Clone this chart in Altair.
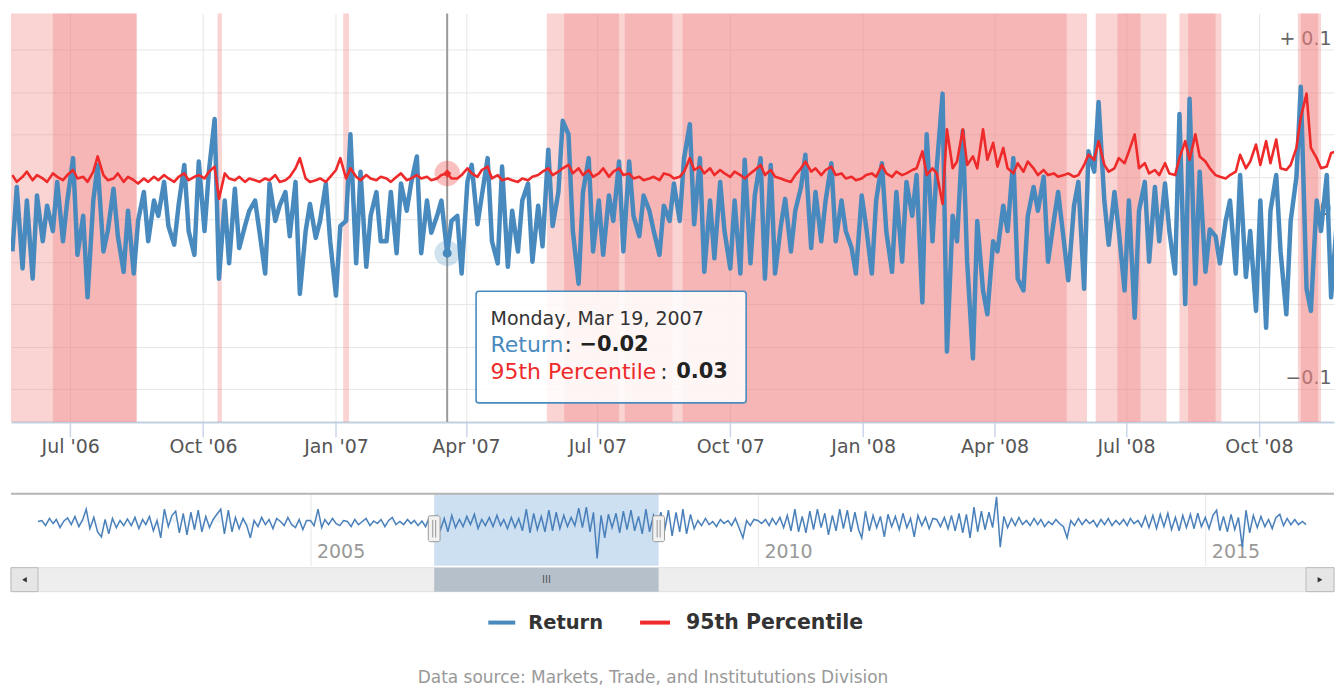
import altair as alt
import pandas as pd

FONT = "DejaVu Sans"
BLUE = "#498abe"
RED = "#ee2a2a"

# ---------------- main view: Return (twice weekly, Mon & Thu from 2006-05-22) ----------------
ret = [
    -0.019, 0.019, -0.029, 0.011, -0.035, 0.014, -0.013, 0.008, -0.007, 0.022,
    -0.013, 0.011, 0.036, -0.021, 0.002, -0.046, 0.011, 0.032, -0.019, -0.007,
    0.018, -0.010, -0.031, 0.005, -0.032, -0.001, 0.016, -0.013, 0.011, 0.002,
    0.022, -0.004, -0.015, 0.008, 0.032, -0.007, -0.021, 0.034, -0.007, 0.028,
    0.059, -0.035, 0.011, -0.026, 0.018, -0.017, -0.004, 0.005, 0.011, -0.007,
    -0.032, 0.021, -0.001, 0.008, 0.016, -0.010, 0.022, -0.044, -0.007, 0.009,
    -0.011, -0.001, 0.021, -0.013, -0.045, -0.004, -0.001, 0.050, -0.026, 0.028,
    -0.028, 0.002, 0.016, -0.013, -0.013, 0.016, -0.020, 0.021, 0.005, 0.021,
    0.037, -0.020, 0.011, -0.008, 0.002, 0.011, -0.020, -0.001, 0.002, -0.032,
    0.022, 0.032, -0.003, 0.014, 0.036, -0.013, -0.026, 0.031, -0.028, 0.005,
    -0.019, 0.011, 0.021, -0.025, 0.008, -0.016, 0.041, -0.004, 0.016, 0.058,
    0.050, -0.007, -0.038, 0.016, 0.036, -0.019, 0.011, -0.021, 0.014, -0.001,
    0.034, -0.019, 0.034, 0.002, -0.010, 0.014, 0.005, -0.007, -0.021, 0.008,
    -0.001, 0.021, -0.001, 0.036, 0.056, -0.003, 0.036, -0.031, 0.011, -0.023,
    0.022, -0.007, -0.029, 0.011, -0.032, 0.035, -0.026, 0.014, 0.036, -0.035,
    0.032, -0.032, -0.004, 0.012, -0.019, 0.005, 0.019, 0.038, -0.017, 0.016,
    -0.013, 0.011, 0.033, -0.013, 0.011, -0.007, -0.017, -0.032, 0.014, -0.004,
    -0.032, 0.011, 0.033, -0.007, -0.031, 0.016, -0.025, 0.022, 0.002, 0.026,
    -0.049, 0.050, -0.013, 0.031, 0.074, -0.078, 0.002, -0.013, 0.052, -0.025,
    -0.082, -0.001, -0.042, -0.056, -0.013, -0.019, 0.008, -0.007, 0.036, -0.035,
    -0.042, 0.002, 0.019, 0.005, 0.025, -0.025, -0.001, 0.016, -0.013, -0.036,
    0.008, 0.022, -0.041, 0.040, 0.028, 0.069, 0.011, -0.015, 0.016, -0.007,
    -0.042, 0.011, -0.058, 0.005, 0.022, -0.025, 0.019, -0.013, 0.021, -0.007,
    -0.032, 0.062, -0.050, 0.071, -0.038, 0.028, -0.031, -0.006, -0.010, -0.026,
    -0.001, 0.011, -0.032, 0.026, -0.034, -0.007, -0.054, 0.011, -0.064, 0.005,
    0.026, -0.019, -0.056, -0.001, 0.025, 0.078, -0.041, -0.054, 0.011, -0.007,
    0.026, -0.046, -0.001,
]

# ---------------- main view: 95th Percentile ----------------
p95 = [
    0.026, 0.022, 0.025, 0.028, 0.023, 0.026, 0.024, 0.022, 0.027, 0.025,
    0.023, 0.026, 0.029, 0.024, 0.025, 0.022, 0.028, 0.037, 0.026, 0.023,
    0.024, 0.027, 0.022, 0.025, 0.023, 0.021, 0.024, 0.022, 0.025, 0.023,
    0.026, 0.024, 0.022, 0.025, 0.027, 0.023, 0.025, 0.026, 0.024, 0.028,
    0.031, 0.012, 0.027, 0.024, 0.023, 0.025, 0.022, 0.024, 0.023, 0.022,
    0.024, 0.023, 0.026, 0.022, 0.023, 0.025, 0.030, 0.036, 0.024, 0.022,
    0.023, 0.024, 0.022, 0.025, 0.029, 0.036, 0.024, 0.030, 0.025, 0.023,
    0.026, 0.024, 0.023, 0.025, 0.024, 0.022, 0.025, 0.027, 0.023, 0.024,
    0.026, 0.024, 0.025, 0.023, 0.024, 0.026, 0.027, 0.024, 0.024, 0.026,
    0.030, 0.027, 0.025, 0.029, 0.031, 0.024, 0.026, 0.023, 0.024, 0.023,
    0.022, 0.024, 0.023, 0.025, 0.026, 0.028, 0.030, 0.026, 0.028, 0.030,
    0.032, 0.027, 0.030, 0.026, 0.029, 0.025, 0.027, 0.030, 0.025, 0.028,
    0.030, 0.026, 0.027, 0.024, 0.025, 0.023, 0.024, 0.025, 0.023, 0.027,
    0.026, 0.024, 0.025, 0.028, 0.036, 0.029, 0.031, 0.027, 0.030, 0.026,
    0.029, 0.027, 0.025, 0.028, 0.026, 0.024, 0.027, 0.029, 0.032, 0.026,
    0.029, 0.025, 0.024, 0.023, 0.022, 0.026, 0.030, 0.034, 0.028, 0.030,
    0.026, 0.029, 0.031, 0.026, 0.027, 0.024, 0.025, 0.023, 0.024, 0.026,
    0.027, 0.025, 0.032, 0.027, 0.025, 0.028, 0.026, 0.027, 0.029, 0.030,
    0.040, 0.026, 0.030, 0.027, 0.009, 0.053, 0.030, 0.034, 0.053, 0.032,
    0.037, 0.030, 0.053, 0.035, 0.045, 0.031, 0.042, 0.030, 0.027, 0.033,
    0.028, 0.034, 0.030, 0.026, 0.029, 0.026, 0.027, 0.025, 0.026, 0.027,
    0.025, 0.026, 0.032, 0.038, 0.035, 0.046, 0.032, 0.028, 0.030, 0.036,
    0.033, 0.040, 0.050, 0.030, 0.033, 0.027, 0.029, 0.026, 0.033, 0.027,
    0.026, 0.036, 0.046, 0.035, 0.050, 0.037, 0.034, 0.030, 0.026, 0.025,
    0.024, 0.026, 0.028, 0.038, 0.030, 0.034, 0.044, 0.032, 0.046, 0.033,
    0.047, 0.030, 0.029, 0.032, 0.042, 0.060, 0.074, 0.042, 0.036, 0.030,
    0.031, 0.039, 0.040,
]

# ---------------- exceedance bands (plot bands) ----------------
band_start = ["2006-05-21", "2006-06-19", "2006-10-11", "2007-01-06", "2007-05-27",
              "2007-06-08", "2007-07-20", "2007-08-29", "2008-06-10", "2008-06-25",
              "2008-08-07", "2008-08-13", "2008-10-28", "2008-10-30"]
band_end = ["2006-08-16", "2006-08-16", "2006-10-14", "2007-01-10", "2008-06-04",
            "2007-07-16", "2007-08-22", "2008-05-21", "2008-07-29", "2008-07-11",
            "2008-09-05", "2008-09-01", "2008-11-13", "2008-11-11"]

# ---------------- navigator series (1st & 16th of each month, Dec 2001 - Feb 2016) ----------------
nav_ret = [
    0.002,
    0.004, -0.006, 0.008, -0.002, 0.006, -0.010, 0.003, 0.009, -0.004, 0.012, -0.008, 0.005,
    0.026, -0.012, 0.010, -0.018, -0.028, 0.006, -0.022, 0.008, -0.010, 0.004, -0.006, 0.007,
    -0.006, 0.010, -0.012, 0.006, -0.004, 0.012, -0.016, 0.004, -0.030, 0.026, -0.008, 0.014,
    0.022, -0.020, 0.018, -0.024, 0.020, -0.014, 0.024, -0.018, 0.012, -0.010, 0.006, 0.016,
    0.026, -0.022, 0.024, -0.018, 0.010, -0.012, 0.008, -0.006, -0.030, 0.004, -0.008, 0.010,
    -0.004, 0.006, -0.012, 0.008, 0.002, -0.006, 0.010, -0.004, -0.010, 0.006, -0.014, 0.004,
    0.004, -0.006, 0.026, -0.010, 0.006, -0.004, 0.008, -0.002, -0.006, 0.004, 0.002, -0.008,
    0.006, -0.004, 0.002, 0.008, -0.006, 0.003, -0.002, 0.006, -0.008, 0.004, 0.010, -0.004,
    0.002, -0.004, 0.006, -0.002, 0.004, -0.006, 0.003, -0.008, 0.010, -0.004, 0.012, -0.014,
    0.008, -0.018, 0.014, -0.010, 0.006, -0.008, 0.012, -0.004, 0.016, -0.012, 0.006, -0.006,
    0.010, -0.008, 0.014, -0.006, 0.006, -0.012, 0.010, -0.010, 0.008, -0.016, 0.026, -0.020,
    0.018, -0.014, 0.012, -0.018, 0.024, -0.016, 0.020, -0.012, 0.014, -0.008, 0.010, -0.006,
    0.028, -0.010, 0.030, -0.018, 0.020, -0.070, 0.014, -0.030, 0.016, -0.010, 0.018, -0.020,
    0.022, -0.014, 0.024, -0.016, 0.012, -0.022, 0.026, -0.018, 0.014, -0.010, 0.020, -0.016,
    0.024, -0.026, 0.020, -0.018, 0.026, -0.022, 0.016, -0.012, 0.004, -0.006, 0.008, -0.004,
    0.002, -0.008, 0.006, -0.002, 0.004, -0.006, 0.008, -0.010, -0.030, 0.004, -0.006, 0.006,
    0.004, -0.002, 0.006, -0.006, 0.008, -0.004, 0.010, -0.010, 0.014, -0.016, 0.026, -0.018,
    0.012, -0.020, 0.022, -0.014, 0.026, -0.010, 0.018, -0.024, 0.014, -0.016, 0.026, -0.012,
    0.024, -0.018, 0.020, -0.014, -0.030, 0.022, -0.016, 0.014, -0.010, 0.012, -0.028, 0.016,
    -0.008, 0.012, -0.014, 0.018, -0.010, 0.008, -0.028, 0.014, -0.006, 0.010, -0.012, 0.008,
    0.006, -0.008, 0.010, -0.012, 0.014, -0.016, 0.018, -0.020, 0.016, -0.030, 0.030, -0.018,
    0.022, -0.014, 0.020, -0.010, 0.050, -0.048, 0.012, -0.010, 0.008, -0.006, 0.010, -0.004,
    0.004, -0.006, 0.008, -0.004, 0.006, -0.008, 0.002, -0.004, 0.006, -0.002, -0.008, -0.030,
    0.004, -0.006, 0.008, -0.004, 0.006, -0.002, 0.004, -0.008, 0.006, -0.004, 0.008, -0.006,
    0.004, -0.004, 0.006, -0.006, 0.008, -0.002, 0.004, -0.008, 0.012, -0.010, 0.014, -0.012,
    0.016, -0.008, 0.018, -0.014, 0.010, -0.016, 0.014, -0.010, 0.016, -0.012, 0.018, -0.008,
    0.010, -0.012, 0.014, 0.024, -0.016, 0.012, -0.018, 0.016, -0.014, 0.010, -0.048, 0.024,
    -0.020, 0.014, -0.010, 0.012, -0.008, 0.006, -0.012, 0.010, 0.016, -0.006, 0.008, -0.004,
    0.006, -0.004, 0.002, -0.004,
]

# tooltip content
tip_date = "2007-03-19"
tip_title = "Monday, Mar 19, 2007"
tip_names = ["Return", "95th Percentile"]
tip_values = ["\u22120.02", "0.03"]

legend_names = ["Return", "95th Percentile"]
credits = "Data source: Markets, Trade, and Institututions Division"

# ---------------- tables ----------------
mondays = pd.date_range("2006-05-22", periods=132, freq="7D")
dates = []
for m in mondays:
    dates.append(m)
    dates.append(m + pd.Timedelta(days=3))
n = min(len(ret), len(p95), len(dates))
main_df = pd.DataFrame({
    "date": [d.strftime("%Y-%m-%d") for d in dates[:n]],
    "ret": ret[:n],
    "p95": p95[:n],
})
band_df = pd.DataFrame({"start": band_start, "end": band_end})
mark_df = main_df[main_df["date"] == tip_date]

months = pd.date_range("2002-01-01", "2016-02-01", freq="MS")
nav_dates = [pd.Timestamp("2001-12-16")]
for m in months:
    nav_dates.append(m)
    nav_dates.append(m + pd.Timedelta(days=15))
nn = min(len(nav_dates), len(nav_ret))
nav_df = pd.DataFrame({"date": [d.strftime("%Y-%m-%d") for d in nav_dates[:nn]], "v": nav_ret[:nn]})

view_start, view_end = "2006-05-21", "2008-11-22"

# ---------------- main chart ----------------
W, H = 1325, 409
xscale = alt.Scale(type="utc", domain=[alt.DateTime(year=2006, month=5, date=21, utc=True),
                                       alt.DateTime(year=2008, month=11, date=22, utc=True)])
yscale = alt.Scale(domain=[-0.1194, 0.1212], nice=False, zero=False)
x_ticks = [alt.DateTime(year=y, month=m, date=1, utc=True)
           for (y, m) in [(2006, 7), (2006, 10), (2007, 1), (2007, 4), (2007, 7), (2007, 10),
                          (2008, 1), (2008, 4), (2008, 7), (2008, 10)]]
xaxis = alt.Axis(values=x_ticks, labelExpr="utcFormat(datum.value, \"%b '%y\")", grid=True,
                 gridColor="#e6e6e6", gridWidth=1, tickColor="#ccd6eb", tickSize=15, tickWidth=1.5,
                 domainColor="#c0d0e0", domainWidth=2, labelFont=FONT, labelFontSize=19,
                 labelColor="#555555", labelPadding=1, title=None, labelFlush=False, labelOverlap=False)
yaxis = alt.Axis(orient="right", values=[-0.1, -0.075, -0.05, -0.025, 0, 0.025, 0.05, 0.075, 0.1],
                 labelExpr="abs(datum.value-0.1)<0.001 ? '+ 0.1' : abs(datum.value)<0.001 ? '0' : abs(datum.value+0.1)<0.001 ? '\u22120.1' : ''",
                 grid=True, gridColor="#e6e6e6", gridWidth=1, ticks=False, domain=False,
                 labelAlign="right", labelPadding=-3, labelBaseline="alphabetic", labelOffset=-5,
                 labelFont=FONT, labelFontSize=19, labelColor="#666666", title=None,
                 labelOverlap=False, labelFlush=False)


def X(field):
    return alt.X(field, scale=xscale, axis=xaxis)


def Y(field):
    return alt.Y(field, scale=yscale, axis=yaxis)


bands = alt.Chart(band_df).mark_rect(color="#f08080", opacity=0.35).encode(x=X("start:T"), x2="end:T")
cross = alt.Chart(mark_df).mark_rule(color="#9a9a9a", strokeWidth=2).encode(x=X("date:T"))
blue_line = alt.Chart(main_df).mark_line(color=BLUE, strokeWidth=4.5, clip=True, strokeJoin="round").encode(
    x=X("date:T"), y=Y("ret:Q"))
red_line = alt.Chart(main_df).mark_line(color=RED, strokeWidth=2.6, clip=True, strokeJoin="round").encode(
    x=X("date:T"), y=Y("p95:Q"))
blue_halo = alt.Chart(mark_df).mark_circle(size=650, color=BLUE, opacity=0.25).encode(x=X("date:T"), y=Y("ret:Q"))
red_halo = alt.Chart(mark_df).mark_circle(size=650, color=RED, opacity=0.3).encode(x=X("date:T"), y=Y("p95:Q"))
blue_pt = alt.Chart(mark_df).mark_circle(size=80, color=BLUE, opacity=1).encode(x=X("date:T"), y=Y("ret:Q"))
red_pt = alt.Chart(mark_df).mark_point(shape="diamond", filled=True, size=70, color=RED, opacity=1).encode(
    x=X("date:T"), y=Y("p95:Q"))

box_df = pd.DataFrame({"x1": ["2007-04-08"], "x2": ["2007-10-12"], "y1": [-0.0424], "y2": [-0.1082]})
tip_box = alt.Chart(box_df).mark_rect(fill="white", fillOpacity=0.86, stroke=BLUE, strokeWidth=1.6,
                                      cornerRadius=3).encode(x=X("x1:T"), x2="x2:T", y=Y("y1:Q"), y2="y2:Q")


def tip_text(txt, yv, color, size, weight, dx):
    df = pd.DataFrame({"d": ["2007-04-18"], "v": [yv], "t": [txt]})
    return alt.Chart(df).mark_text(align="left", baseline="middle", dx=dx, font=FONT, fontSize=size,
                                   fontWeight=weight, color=color).encode(x=X("d:T"), y=Y("v:Q"), text="t:N")


tips = [
    tip_text(tip_title, -0.0588, "#333333", 19, "normal", 0),
    tip_text(tip_names[0], -0.0741, BLUE, 22, "normal", 0),
    tip_text(":", -0.0741, "#333333", 22, "normal", 74),
    tip_text(tip_values[0], -0.0741, "#222222", 21, "bold", 89),
    tip_text(tip_names[1], -0.0900, RED, 22, "normal", 0),
    tip_text(":", -0.0900, "#333333", 22, "normal", 170),
    tip_text(tip_values[1], -0.0900, "#222222", 21, "bold", 186),
]

main = alt.layer(bands, cross, blue_line, red_line, blue_halo, red_halo, blue_pt, red_pt, tip_box, *tips).properties(
    width=W, height=H)

# ---------------- navigator ----------------
NW, NH = 1325, 72
nxscale = alt.Scale(type="utc", domain=[alt.DateTime(year=2001, month=12, date=16, utc=True),
                                        alt.DateTime(year=2016, month=2, date=16, utc=True)], range=[27, 1297])
nyscale = alt.Scale(domain=[-0.084, 0.056], nice=False, zero=False)
nxaxis = alt.Axis(values=[alt.DateTime(year=y, month=1, date=1, utc=True) for y in (2005, 2010, 2015)],
                  labelExpr="utcFormat(datum.value, '%Y')", grid=True, gridColor="#e6e6e6", gridWidth=1,
                  ticks=False, domain=False, labelAlign="left", labelBaseline="alphabetic", labelPadding=-8,
                  labelOffset=6, labelFont=FONT, labelFontSize=19, labelColor="#999999", title=None,
                  labelFlush=False, labelOverlap=False)


def NX(field):
    return alt.X(field, scale=nxscale, axis=nxaxis)


def NY(field):
    return alt.Y(field, scale=nyscale, axis=None)


one = pd.DataFrame({"a": [0]})
sel_df = pd.DataFrame({"s": [view_start], "e": [view_end]})
sel = alt.Chart(sel_df).mark_rect(fill="#cde0f2").encode(x=NX("s:T"), x2="e:T")
nav_area = alt.Chart(nav_df).mark_area(color="#4572a7", opacity=0.07).encode(x=NX("date:T"), y=NY("v:Q"),
                                                                            y2=alt.value(NH))
nav_line = alt.Chart(nav_df).mark_line(color="#4a80ba", strokeWidth=1.5).encode(x=NX("date:T"), y=NY("v:Q"))
top_border = alt.Chart(one).mark_rule(color="#b5b5b5", strokeWidth=2).encode(
    x=alt.value(0), x2=alt.value(NW), y=alt.value(0))

handle_df = pd.DataFrame({"x1": ["2006-04-27", "2008-10-29"], "x2": ["2006-06-14", "2008-12-16"],
                          "y1": [0.0132, 0.0132], "y2": [-0.0373, -0.0373]})
handles = alt.Chart(handle_df).mark_rect(fill="#f2f2f2", stroke="#999999", strokeWidth=1, cornerRadius=2).encode(
    x=NX("x1:T"), x2="x2:T", y=NY("y1:Q"), y2="y2:Q")
grip_df = pd.DataFrame({"d": ["2006-05-15", "2006-05-27", "2008-11-16", "2008-11-28"],
                        "y1": [0.005] * 4, "y2": [-0.029] * 4})
grips = alt.Chart(grip_df).mark_rule(color="#999999", strokeWidth=1).encode(x=NX("d:T"), y=NY("y1:Q"), y2="y2:Q")

track = alt.Chart(one).mark_rect(fill="#eeeeee", stroke="#e0e0e0", strokeWidth=1).encode(
    x=alt.value(0), x2=alt.value(NW), y=alt.value(74), y2=alt.value(98))
btn_l = alt.Chart(one).mark_rect(fill="#e6e6e6", stroke="#bbbbbb", strokeWidth=1).encode(
    x=alt.value(0), x2=alt.value(27), y=alt.value(74), y2=alt.value(98))
btn_r = alt.Chart(one).mark_rect(fill="#e6e6e6", stroke="#bbbbbb", strokeWidth=1).encode(
    x=alt.value(1297), x2=alt.value(NW), y=alt.value(74), y2=alt.value(98))
arr_l = alt.Chart(one).mark_point(shape="triangle-left", filled=True, size=30, color="#333333", opacity=1).encode(
    x=alt.value(13.5), y=alt.value(86))
arr_r = alt.Chart(one).mark_point(shape="triangle-right", filled=True, size=30, color="#333333", opacity=1).encode(
    x=alt.value(1311), y=alt.value(86))
thumb = alt.Chart(sel_df).mark_rect(fill="#b6c0cb").encode(x=NX("s:T"), x2="e:T", y=alt.value(74), y2=alt.value(98))
thumb_grip = alt.Chart(pd.DataFrame({"d": ["2007-08-22"], "t": ["III"]})).mark_text(
    font=FONT, fontSize=10, color="#555555", baseline="middle").encode(x=NX("d:T"), y=alt.value(86), text="t:N")

leg_b = alt.Chart(one).mark_rule(color=BLUE, strokeWidth=4).encode(x=alt.value(478), x2=alt.value(505), y=alt.value(129))
leg_r = alt.Chart(one).mark_rule(color=RED, strokeWidth=4).encode(x=alt.value(630), x2=alt.value(660), y=alt.value(129))
leg_t1 = alt.Chart(pd.DataFrame({"t": [legend_names[0]]})).mark_text(
    font=FONT, fontSize=19.5, fontWeight="bold", color="#333333", align="left", baseline="middle").encode(
    x=alt.value(518), y=alt.value(129), text="t:N")
leg_t2 = alt.Chart(pd.DataFrame({"t": [legend_names[1]]})).mark_text(
    font=FONT, fontSize=20.5, fontWeight="bold", color="#333333", align="left", baseline="middle").encode(
    x=alt.value(676), y=alt.value(129), text="t:N")
cred = alt.Chart(pd.DataFrame({"t": [credits]})).mark_text(
    font=FONT, fontSize=17, color="#999999", align="center", baseline="middle").encode(
    x=alt.value(643), y=alt.value(185), text="t:N")

nav = alt.layer(sel, nav_area, nav_line, top_border, handles, grips, track, btn_l, btn_r, arr_l, arr_r,
                thumb, thumb_grip, leg_b, leg_r, leg_t1, leg_t2, cred).properties(width=NW, height=NH)

chart = alt.vconcat(main, nav, spacing=36).properties(
    padding={"left": 2, "top": 4, "right": 0, "bottom": 0}, background="white"
).configure_view(stroke=None)

chart.save("out.html", embed_options={"renderer": "svg", "actions": False})
